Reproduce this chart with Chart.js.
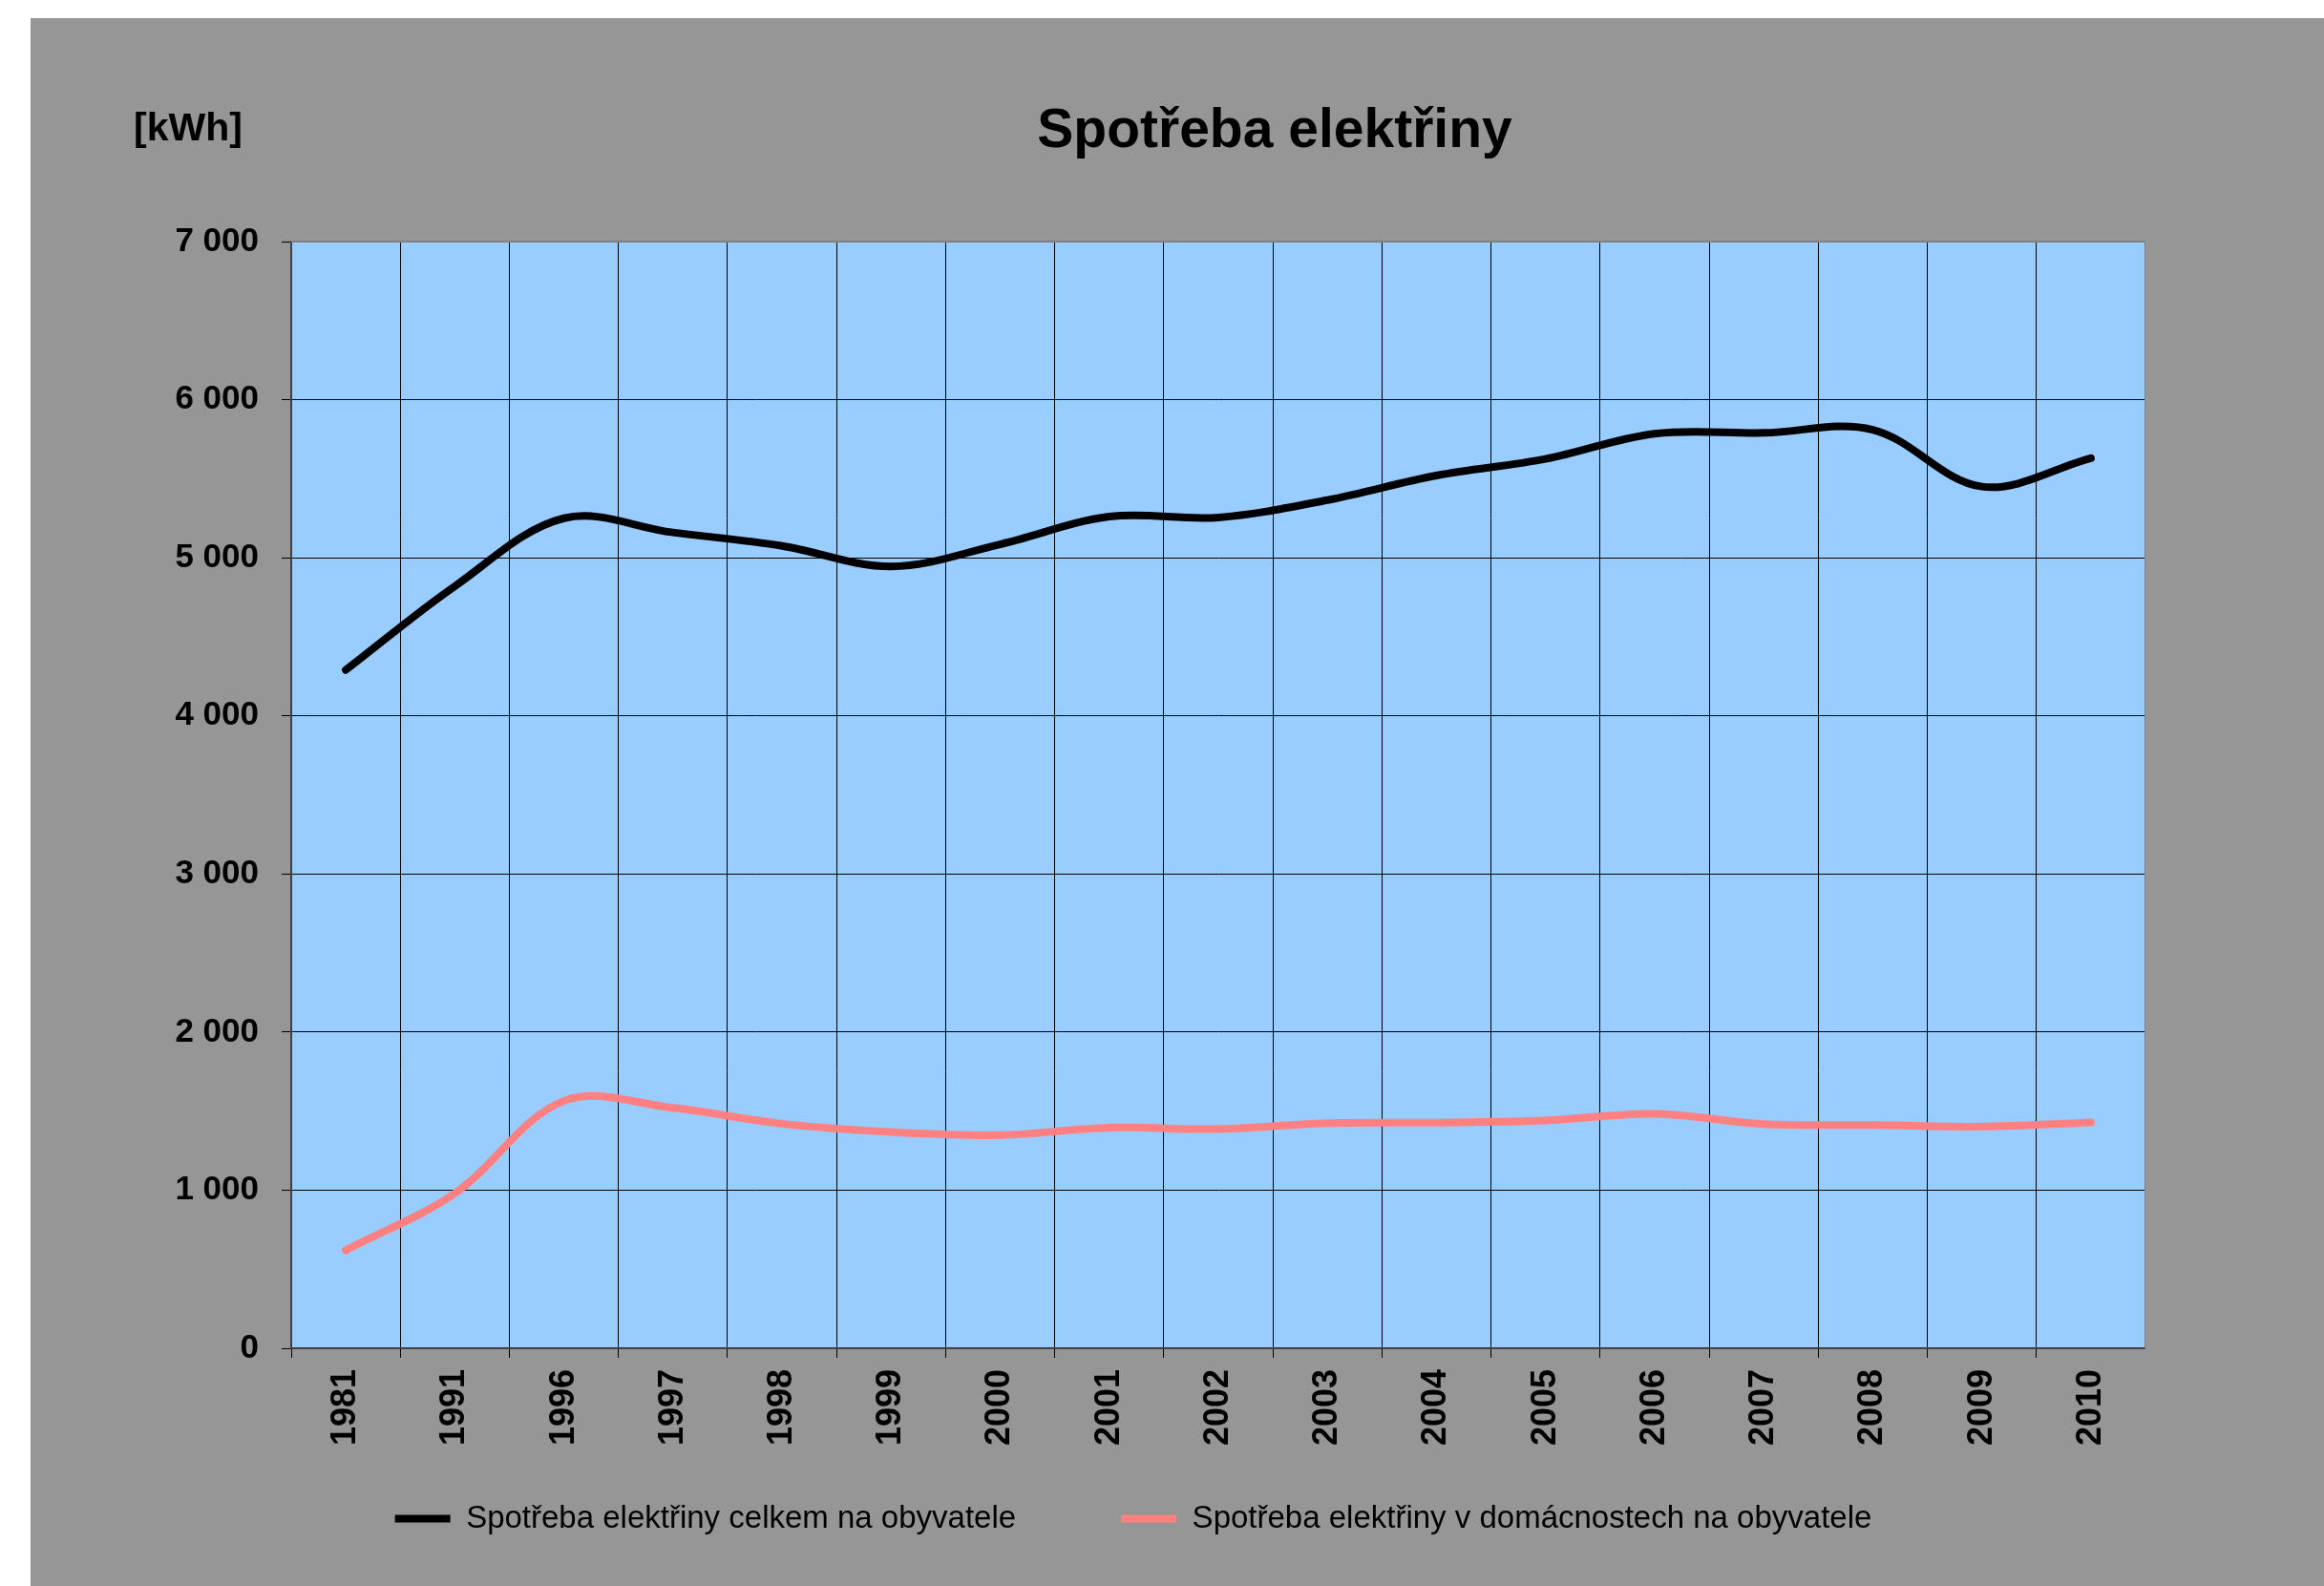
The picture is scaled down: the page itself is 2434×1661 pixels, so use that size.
<!DOCTYPE html>
<html>
<head>
<meta charset="utf-8">
<title>Spotřeba elektřiny</title>
<script src="https://cdn.jsdelivr.net/npm/chart.js@4.4.0/dist/chart.umd.min.js"></script>
<style>
  html, body { margin: 0; padding: 0; background: #fff; overflow: hidden; }
  #panel { position: absolute; left: 32px; top: 19px; width: 2402px; height: 1642px; background: #969696; overflow: hidden; }
  #wrap { position: absolute; left: 95px; top: 0; width: 2120px; height: 1670px; }
</style>
</head>
<body>
<div id="panel"><div id="wrap"><canvas id="chart"></canvas></div></div>
<script>
var years = ['1981', '1991', '1996', '1997', '1998', '1999', '2000', '2001', '2002',
             '2003', '2004', '2005', '2006', '2007', '2008', '2009', '2010'];
var totalPerCapita = [4290, 4820, 5250, 5160, 5075, 4945, 5085, 5260, 5255,
                      5365, 5520, 5625, 5785, 5790, 5810, 5450, 5630];
var householdPerCapita = [620, 980, 1565, 1520, 1420, 1368, 1348, 1395, 1386,
                          1424, 1427, 1440, 1483, 1418, 1412, 1402, 1428];
var seriesNames = ['Spotřeba elektřiny celkem na obyvatele',
                   'Spotřeba elektřiny v domácnostech na obyvatele'];
var chartTitle = 'Spotřeba elektřiny';
var unitLabel = '[kWh]';

var FONT = '"Liberation Sans", Arial, sans-serif';

function fmt(v) {
  return String(v).replace(/\B(?=(\d{3})+(?!\d))/g, ' ');
}

// blue plot area + grey frame on top/right
var plotArea = {
  id: 'plotArea',
  beforeDraw: function(chart) {
    var a = chart.chartArea, ctx = chart.ctx;
    ctx.save();
    ctx.fillStyle = '#99CCFF';
    ctx.fillRect(a.left, a.top, a.right - a.left, a.bottom - a.top);
    ctx.restore();
  },
  beforeDatasetsDraw: function(chart) {
    var a = chart.chartArea, ctx = chart.ctx;
    ctx.save();
    ctx.strokeStyle = '#808080';
    ctx.lineWidth = 2;
    ctx.beginPath();
    ctx.moveTo(a.left, a.top);
    ctx.lineTo(a.right, a.top);
    ctx.lineTo(a.right, a.bottom);
    ctx.stroke();
    ctx.restore();
  }
};

// legend sits closer to the rotated year labels than its padding would allow
var legendLift = {
  id: 'legendLift',
  afterLayout: function(chart) {
    if (chart.legend) {
      chart.legend.top -= 58;
      chart.legend.bottom -= 58;
    }
  }
};

// title and unit label
var headerText = {
  id: 'headerText',
  afterDraw: function(chart) {
    var ctx = chart.ctx;
    ctx.save();
    ctx.fillStyle = '#000';
    ctx.textBaseline = 'alphabetic';
    ctx.font = 'bold 57px ' + FONT;
    ctx.textAlign = 'center';
    ctx.fillText(chartTitle, 1208, 135);
    ctx.font = 'bold 41px ' + FONT;
    ctx.textAlign = 'left';
    ctx.fillText(unitLabel, 13, 128);
    ctx.restore();
  }
};

new Chart(document.getElementById('chart'), {
  type: 'line',
  data: {
    labels: years,
    datasets: [{
      label: seriesNames[0],
      data: totalPerCapita,
      borderColor: '#000000',
      backgroundColor: '#000000',
      borderWidth: 8,
      borderCapStyle: 'round',
      pointRadius: 0,
      tension: 0.35
    }, {
      label: seriesNames[1],
      data: householdPerCapita,
      borderColor: '#FF8080',
      backgroundColor: '#FF8080',
      borderWidth: 8,
      borderCapStyle: 'round',
      pointRadius: 0,
      tension: 0.35
    }]
  },
  options: {
    responsive: true,
    maintainAspectRatio: false,
    devicePixelRatio: 1,
    animation: false,
    layout: { padding: { top: 234, bottom: 14, left: 0, right: 0 } },
    plugins: {
      title: { display: false },
      tooltip: { enabled: false },
      legend: {
        position: 'bottom',
        labels: {
          color: '#000',
          font: { family: FONT, size: 33 },
          usePointStyle: true,
          pointStyle: 'line',
          pointStyleWidth: 58,
          padding: 110
        }
      }
    },
    scales: {
      x: {
        offset: true,
        grid: { offset: true, color: '#000', lineWidth: 1, tickLength: 10 },
        border: { color: '#404040', width: 2 },
        ticks: {
          color: '#000',
          font: { family: FONT, size: 36, weight: 'bold' },
          minRotation: 90,
          maxRotation: 90,
          autoSkip: false,
          padding: 12
        },
        afterFit: function(s) { s.height = 110; }
      },
      y: {
        min: 0,
        max: 7000,
        grid: { color: '#000', lineWidth: 1, tickLength: 10 },
        border: { color: '#404040', width: 2 },
        ticks: {
          stepSize: 1000,
          color: '#000',
          font: { family: FONT, size: 35, weight: 'bold' },
          padding: 24,
          callback: function(v) { return fmt(v); }
        },
        afterFit: function(s) { s.width = 178; }
      }
    }
  },
  plugins: [plotArea, legendLift, headerText]
});
</script>
</body>
</html>
